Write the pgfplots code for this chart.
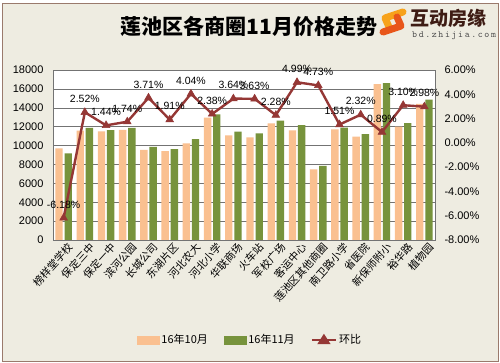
\documentclass[border=0pt]{standalone}
\usepackage{pgfplots}
\usepackage{pgfplotstable}
\pgfplotsset{compat=1.18}
\usepackage{fontspec}
\setmainfont{Liberation Sans}
\newfontfamily\cjk{Noto Sans CJK SC}
\definecolor{peach}{HTML}{FAC090}
\definecolor{olive}{HTML}{77933C}
\definecolor{lred}{HTML}{953735}
\definecolor{bgc}{HTML}{EEECE1}
\definecolor{frame}{HTML}{9A7A6C}
\definecolor{logotxt}{HTML}{3E1C14}
\definecolor{logoA}{HTML}{F7A21B}
\definecolor{logoB}{HTML}{E8561A}
\pgfkeys{/pgf/number format/assume math mode=true}

\pgfplotstableread{
x oct nov r
0 9700 9180 -6.18
1 11570 11860 2.52
2 11500 11620 1.44
3 11650 11860 1.74
4 9530 9860 3.71
5 9420 9620 1.91
6 10240 10680 4.04
7 12950 13300 2.38
8 11080 11480 3.64
9 10870 11280 3.63
10 12350 12650 2.28
11 11600 12150 4.99
12 7480 7840 4.73
13 11700 11900 1.51
14 10940 11200 2.32
15 16500 16620 0.89
16 12000 12380 3.10
17 14400 14850 2.98
}\data

\begin{document}
\begin{tikzpicture}
\fill[white] (0pt,0pt) rectangle (500pt,363pt);
\fill[bgc] (2pt,2pt) rectangle (498pt,360pt);
\draw[frame,line width=0.8pt] (2pt,2pt) rectangle (498pt,360pt);

% title
\node[font={\cjk\bfseries\fontsize{21}{25}\selectfont}] at (249pt,337pt) {莲池区各商圈11月价格走势};

% logo (decorative)
\begin{scope}[shift={(393pt,341pt)}, x=1pt, y=1pt]
\draw[logoA, line width=7pt, line cap=round, line join=round] (10,10) -- (-8,4) -- (-4,-5);
\draw[logoB, line width=7pt, line cap=round, line join=round] (-10,-10) -- (8,-4) -- (4,5);
\end{scope}
\node[font={\cjk\bfseries\fontsize{19}{22}\selectfont}, text=logotxt, anchor=west, inner sep=0pt] at (410pt,345pt) {互动房缘};
\node[font={\ttfamily\fontsize{9.5}{11}\selectfont}, text=black!70, anchor=west, inner sep=0pt] at (412pt,327pt) {b\,d\,.\,z\,h\,i\,j\,i\,a\,.\,c\,o\,m};

\begin{axis}[
  at={(53pt,123pt)}, anchor=south west,
  scale only axis, width=382pt, height=170pt,
  xmin=-0.5, xmax=17.5,
  ymin=0, ymax=18000,
  ytick={0,2000,...,18000},
  scaled y ticks=false,
  yticklabel style={/pgf/number format/1000 sep={}, font=\fontsize{11}{13}\selectfont, xshift=-6pt},
  ymajorgrids, grid style={black!55, line width=0.5pt},
  major tick length=0pt,
  axis line style={black!55, line width=0.6pt},
  axis background/.style={fill=white},
  ybar=1.8pt, bar width=7.4pt,
  xtick={0,...,17},
  xticklabels={榜样堂学校,保定三中,保定一中,滨河公园,长城公司,东湖片区,河北农大,河北小学,华联商场,火车站,军校广场,客运中心,莲池区其他商圈,南卫路小学,省医院,新保师附小,裕华路,植物园},
  xticklabel style={font={\cjk\fontsize{10.5}{12}\selectfont}, rotate=48, anchor=north east, inner sep=1pt, yshift=-3pt, xshift=2pt},
]
\addplot[fill=peach, draw=none] table[x=x,y=oct] {\data};
\addplot[fill=olive, draw=none] table[x=x,y=nov] {\data};
\end{axis}

\begin{axis}[
  at={(53pt,123pt)}, anchor=south west,
  scale only axis, width=382pt, height=170pt,
  xmin=-0.5, xmax=17.5,
  ymin=-8, ymax=6,
  ytick={-8,-6,...,6},
  axis y line*=right, axis x line=none,
  axis line style={black!55, line width=0.6pt},
  major tick length=0pt,
  yticklabel={\pgfmathprintnumber[fixed,fixed zerofill,precision=2]{\tick}\%},
  yticklabel style={font=\fontsize{11}{13}\selectfont, xshift=6pt},
  clip=false,
  legend style={at={(0.516,-0.588)}, anchor=center, draw=none, fill=none,
    legend columns=3, font={\cjk\fontsize{11}{13}\selectfont},
    /tikz/every even column/.append style={column sep=14pt}},
]
\addlegendimage{legend image code/.code={\fill[peach] (0pt,-4pt) rectangle (22pt,4pt);}}
\addlegendentry{16年10月}
\addlegendimage{legend image code/.code={\fill[olive] (0pt,-4pt) rectangle (22pt,4pt);}}
\addlegendentry{16年11月}
\addplot[color=lred, line width=2.4pt, mark=triangle*, mark size=4.5pt,
  mark options={line width=0.5pt},
  legend image code/.code={\draw[lred,line width=2.4pt] (0pt,0pt) -- (24pt,0pt);
    \fill[lred] (12pt,4pt) -- (7.5pt,-3pt) -- (16.5pt,-3pt) -- cycle;},
  nodes near coords={\pgfmathprintnumber[fixed,fixed zerofill,precision=2]{\pgfplotspointmeta}\%},
  nodes near coords style={font=\fontsize{10.5}{12}\selectfont, text=black, anchor=south, yshift=6pt},
  point meta=explicit]
  table[x=x,y=r,meta=r] {\data};
\addlegendentry{环比}
\end{axis}
\end{tikzpicture}
\end{document}
